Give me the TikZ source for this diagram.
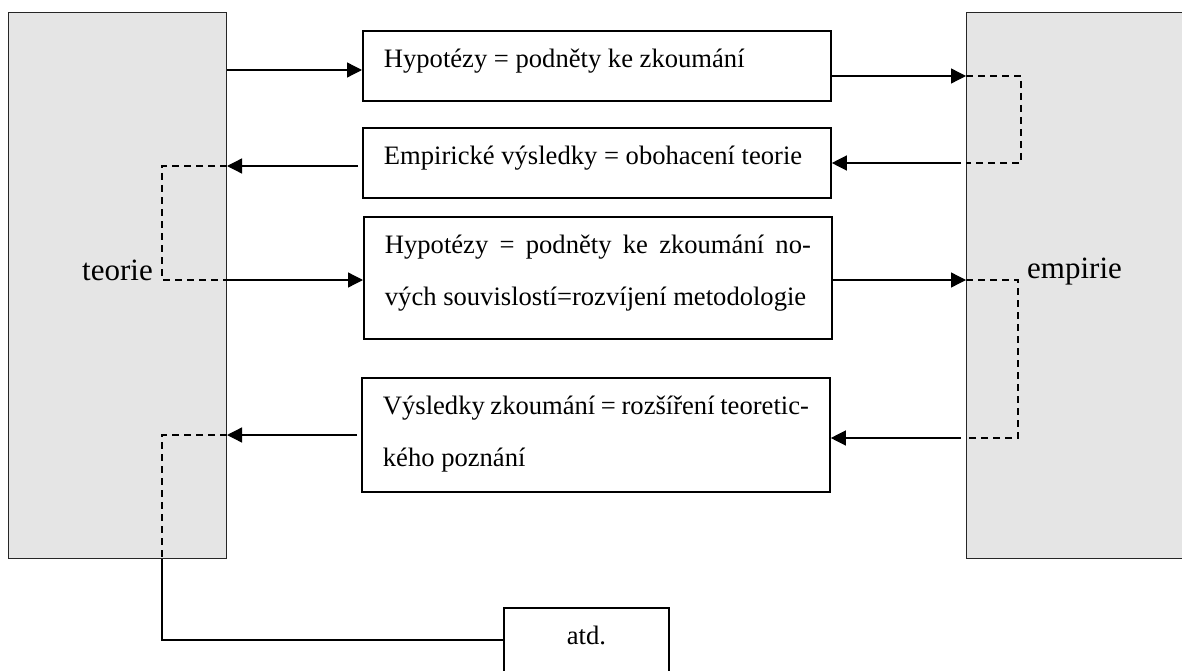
\documentclass[tikz,border=0pt]{standalone}
\usepackage{fontspec}
\setmainfont{Liberation Serif}
\usetikzlibrary{arrows.meta}
\newcommand\boxfont{\fontsize{26.6pt}{52pt}\selectfont\tolerance=10000 }
\newcommand\lblfont{\fontsize{31pt}{37pt}\selectfont}
\newcommand\topstr{\rule{0pt}{28pt}}
\newcommand\botstr{\rule[-24pt]{0pt}{24pt}}
\newcommand\botstrs{\rule[-16pt]{0pt}{16pt}}
\begin{document}
\begin{tikzpicture}[x=1pt,y=-1pt,
  panel/.style={draw=black!85, fill=black!10, line width=1pt, inner sep=0pt, anchor=north west},
  txtbox/.style={draw, line width=1.8pt, anchor=north west, inner xsep=21pt, inner ysep=9pt,
                 text width=426pt, align=justify, font=\boxfont},
  endbox/.style={draw, line width=1.8pt, anchor=north west, inner xsep=0pt, inner ysep=9pt,
                 minimum width=165pt, font=\boxfont},
  lbl/.style={inner sep=0pt, font=\lblfont},
  arr/.style={line width=1.3pt, -{Triangle[length=15pt,width=15pt]}},
  dsh/.style={line width=1.7pt, dash pattern=on 7pt off 5pt},
  ln/.style={line width=1.3pt}]
\clip (0,0) rectangle (1182,671);
\fill[white] (0,0) rectangle (1182,671);
% side panels
\node[panel, minimum width=218pt, minimum height=546pt] (teorie) at (8,12) {};
\node[panel, minimum width=240pt, minimum height=546pt] (empirie) at (966,12) {};
\node[lbl, anchor=base east] (tlab) at (153,280) {teorie};
\node[lbl, anchor=base west] (elab) at (1027,278) {empirie};
% middle boxes
\node[txtbox] (b1) at (362,30) {\topstr Hypotézy = podněty ke zkoumání\botstr};
\node[txtbox] (b2) at (362,127) {\topstr Empirické výsledky = obohacení teorie\botstr};
\node[txtbox] (b3) at (363,216) {\topstr Hypotézy = podněty ke zkoumání no-\linebreak vých souvislostí=rozvíjení metodologie\botstr};
\node[txtbox] (b4) at (361,377) {\topstr Výsledky zkoumání = rozšíření teoretic-\linebreak kého poznání\botstrs};
\node[endbox] (atd) at (503,607) {\topstr atd.\botstr};
% bend points
\coordinate (lA) at (162,166);
\coordinate (lB) at (162,280);
\coordinate (lC) at (162,435);
\coordinate (lD) at (162,640);
\coordinate (rA) at (1021,76);
\coordinate (rB) at (1021,163);
\coordinate (rC) at (1018,280);
\coordinate (rD) at (1018,438);
% connectors
\draw[arr] (teorie.east |- 0,70) -- (b1.west |- 0,70);
\draw[arr] (b1.east |- 0,76) -- (empirie.west |- 0,76);
\draw[dsh] (empirie.west |- rA) -- (rA) -- (rB) -- (empirie.west |- rB);
\draw[arr, shorten <=5pt] (empirie.west |- rB) -- (b2.east |- rB);
\draw[arr, shorten <=4pt] (b2.west |- lA) -- (teorie.east |- lA);
\draw[dsh] (teorie.east |- lA) -- (lA) -- (lB) -- (teorie.east |- lB);
\draw[arr] (teorie.east |- lB) -- (b3.west |- lB);
\draw[arr] (b3.east |- rC) -- (empirie.west |- rC);
\draw[dsh] (empirie.west |- rC) -- (rC) -- (rD) -- (empirie.west |- rD);
\draw[arr, shorten <=5pt] (empirie.west |- rD) -- (b4.east |- rD);
\draw[arr, shorten <=4pt] (b4.west |- lC) -- (teorie.east |- lC);
\draw[dsh] (teorie.east |- lC) -- (lC) -- (lC |- teorie.south);
\draw[ln] (lC |- teorie.south) -- (lD) -- (atd.west |- lD);
\end{tikzpicture}
\end{document}
